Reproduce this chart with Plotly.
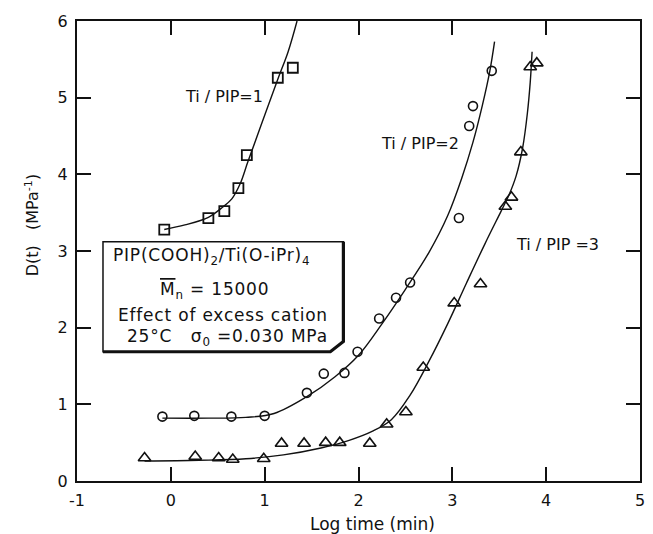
import plotly.graph_objects as go

# ---- data ----
# Ti/PIP = 1 (squares)
sq_x = [-0.07, 0.40, 0.57, 0.72, 0.81, 1.14, 1.30]
sq_y = [3.28, 3.43, 3.52, 3.82, 4.25, 5.26, 5.39]
fit1_x = [-0.07, 0.15, 0.40, 0.55, 0.65, 0.74, 0.82, 0.95, 1.14, 1.25, 1.345]
fit1_y = [3.28, 3.34, 3.44, 3.57, 3.68, 3.88, 4.16, 4.60, 5.24, 5.60, 6.00]

# Ti/PIP = 2 (circles)
c_x = [-0.09, 0.25, 0.645, 1.0, 1.45, 1.63, 1.85, 1.99, 2.22, 2.40, 2.55, 3.07, 3.18, 3.22, 3.42]
c_y = [0.84, 0.85, 0.84, 0.85, 1.15, 1.40, 1.41, 1.686, 2.12, 2.39, 2.59, 3.43, 4.63, 4.89, 5.35]
fit2_x = [-0.09, 0.4, 0.8, 1.1, 1.45, 1.75, 2.0, 2.25, 2.5, 2.75, 2.95, 3.1, 3.22, 3.32, 3.40, 3.45]
fit2_y = [0.82, 0.82, 0.83, 0.88, 1.10, 1.36, 1.64, 2.05, 2.50, 2.98, 3.46, 3.95, 4.42, 4.90, 5.35, 5.73]

# Ti/PIP = 3 (triangles)
t_x = [-0.28, 0.26, 0.51, 0.66, 0.99, 1.18, 1.42, 1.65, 1.80, 2.12, 2.30, 2.505, 2.69, 3.02, 3.30,
       3.565, 3.63, 3.73, 3.83, 3.90]
t_y = [0.30, 0.32, 0.30, 0.28, 0.29, 0.49, 0.49, 0.50, 0.50, 0.49, 0.74, 0.90, 1.48, 2.32, 2.57,
       3.58, 3.70, 4.29, 5.40, 5.45]
fit3_x = [-0.28, 0.3, 0.8, 1.2, 1.6, 1.9, 2.15, 2.35, 2.55, 2.75, 2.95, 3.15, 3.35, 3.52, 3.60,
          3.68, 3.75, 3.80, 3.83, 3.85]
fit3_y = [0.26, 0.27, 0.29, 0.34, 0.43, 0.53, 0.65, 0.80, 1.12, 1.56, 2.05, 2.58, 3.10, 3.52, 3.72,
          3.98, 4.35, 4.80, 5.20, 5.60]

x_ticks = [-1, 0, 1, 2, 3, 4, 5]
x_ticktext = ["-1", "0", "1", "2", "3", "4", "5"]
y_ticks = [0, 1, 2, 3, 4, 5, 6]
y_ticktext = ["0", "1", "2", "3", "4", "5", "6"]

FONT = "DejaVu Sans"
INK = "#111111"

fig = go.Figure()

for fx, fy in [(fit1_x, fit1_y), (fit2_x, fit2_y), (fit3_x, fit3_y)]:
    fig.add_trace(go.Scatter(x=fx, y=fy, mode="lines",
                             line=dict(color=INK, width=1.4, shape="spline", smoothing=1.0),
                             hoverinfo="skip", showlegend=False))

fig.add_trace(go.Scatter(x=sq_x, y=sq_y, mode="markers", showlegend=False,
                         marker=dict(symbol="square-open", size=10, color=INK, line=dict(width=1.8, color=INK))))
fig.add_trace(go.Scatter(x=c_x, y=c_y, mode="markers", showlegend=False,
                         marker=dict(symbol="circle-open", size=9, color=INK, line=dict(width=1.6, color=INK))))
fig.add_trace(go.Scatter(x=t_x, y=t_y, mode="markers", showlegend=False,
                         marker=dict(symbol="triangle-up-open", size=11, color=INK, line=dict(width=1.6, color=INK))))

# info box with chamfered lower-right corner and heavier right/bottom edge
bx0, bx1, by0, by1 = -0.723, 1.839, 1.686, 3.12
cx, cy = 1.70, 1.82
fig.add_shape(type="path",
              path=f"M {bx0},{by1} L {bx1},{by1} L {bx1},{cy} L {cx},{by0} L {bx0},{by0} Z",
              line=dict(color=INK, width=1.5), fillcolor="white", layer="below")
fig.add_shape(type="path",
              path=f"M {bx1},{by1} L {bx1},{cy} L {cx},{by0} L {bx0},{by0}",
              line=dict(color=INK, width=3.2), layer="below")

lab_font = dict(family=FONT, size=16, color=INK)
box_font = dict(family=FONT, size=17, color=INK)
SP = "<span style='letter-spacing:0.8px'>"
annots = [
    dict(x=0.57, y=5.01, text="Ti / PIP=1", font=lab_font),
    dict(x=2.66, y=4.40, text="Ti / PIP=2", font=lab_font),
    dict(x=4.12, y=3.08, text="Ti / PIP =3", font=lab_font),
    dict(x=0.432, y=2.93, text=SP + "PIP(COOH)<sub>2</sub>/Ti(O-iPr)<sub>4</sub></span>", font=box_font),
    dict(x=0.463, y=2.49, text=SP + "<span style='text-decoration:overline'>M</span><sub>n</sub> = 15000</span>", font=box_font),
    dict(x=0.558, y=2.16, text=SP + "Effect of excess cation</span>", font=box_font),
    dict(x=0.60, y=1.87, text=SP + "25°C   σ<sub>0</sub> =0.030 MPa</span>", font=box_font),
]
for a in annots:
    fig.add_annotation(x=a["x"], y=a["y"], text=a["text"], showarrow=False,
                       xanchor="center", yanchor="middle", font=a["font"])

fig.add_annotation(xref="paper", yref="paper", x=-0.079, y=0.557,
                   text="D(t)   (MPa<sup>-1</sup>)", textangle=-90, showarrow=False,
                   xanchor="center", yanchor="middle", font=lab_font)
fig.add_annotation(xref="paper", yref="paper", x=0.525, y=-0.093,
                   text="Log time (min)", showarrow=False,
                   xanchor="center", yanchor="middle", font=dict(family=FONT, size=17, color=INK))

axis_common = dict(showline=True, linewidth=2, linecolor=INK, mirror="ticks",
                   ticks="inside", ticklen=14, tickwidth=1.6, tickcolor=INK,
                   showgrid=False, zeroline=False, tickfont=dict(family=FONT, size=16, color=INK))
fig.update_xaxes(range=[-1, 5], tickvals=x_ticks, ticktext=x_ticktext, ticklabelstandoff=4, **axis_common)
fig.update_yaxes(range=[0, 6], tickvals=y_ticks, ticktext=y_ticktext, ticklabelstandoff=4, **axis_common)

fig.update_layout(width=653, height=534, margin=dict(l=77, r=8, t=21, b=53),
                  paper_bgcolor="white", plot_bgcolor="white", showlegend=False,
                  font=dict(family=FONT, color=INK))

fig.write_html("out.html")
